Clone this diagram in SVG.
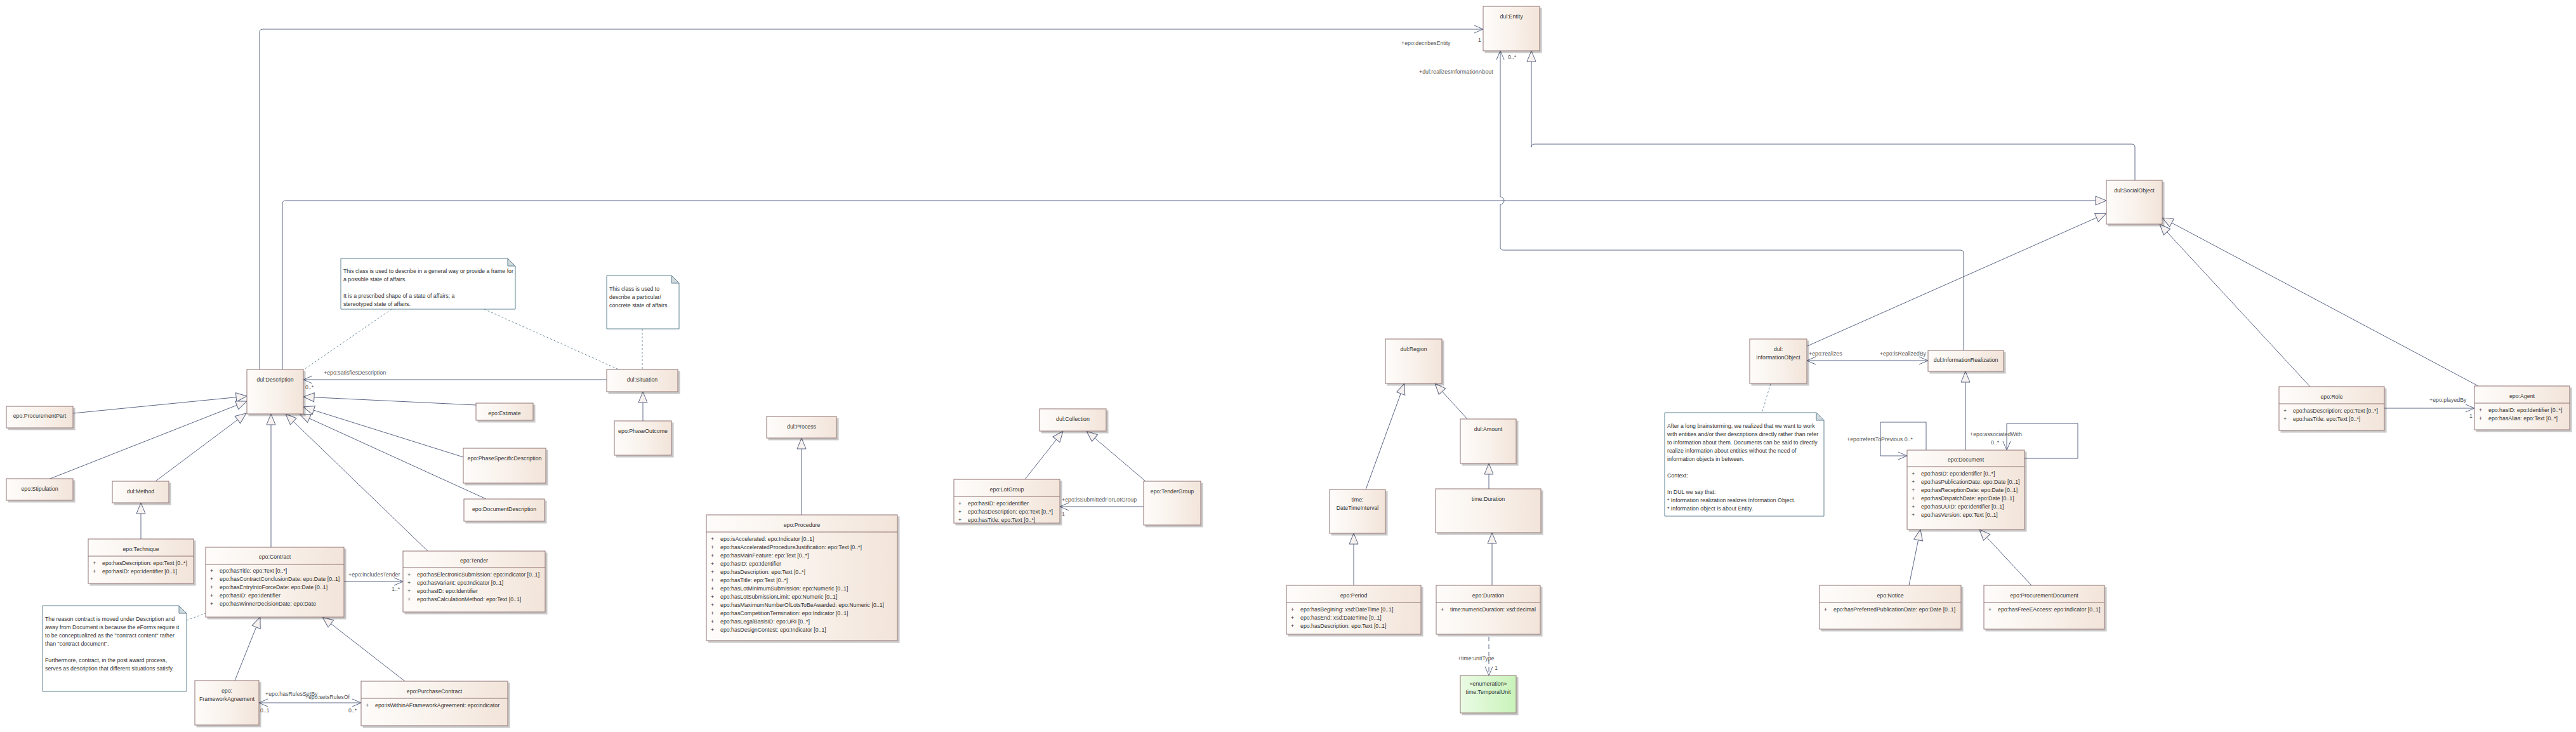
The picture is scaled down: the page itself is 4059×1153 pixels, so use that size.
<svg xmlns="http://www.w3.org/2000/svg" width="4059" height="1153" viewBox="0 0 4059 1153">
<defs>
<linearGradient id="g" x1="0" y1="0" x2="1" y2="0"><stop offset="0" stop-color="#fefcfa"/><stop offset="0.5" stop-color="#f9f2ec"/><stop offset="1" stop-color="#f2e4d9"/></linearGradient>
<linearGradient id="gg" x1="0" y1="0" x2="1" y2="0"><stop offset="0" stop-color="#eafbe4"/><stop offset="1" stop-color="#c9f3ba"/></linearGradient>
<filter id="sh" x="-10%" y="-10%" width="130%" height="130%"><feDropShadow dx="3" dy="3" stdDeviation="0.6" flood-color="#000" flood-opacity="0.22"/></filter>
<marker id="gen" viewBox="0 0 18 14" refX="17" refY="7" markerWidth="18" markerHeight="14" markerUnits="userSpaceOnUse" orient="auto" overflow="visible"><path d="M0,0 L17,7 L0,14 Z" fill="#f7f2ef" stroke="#5b6685" stroke-width="1"/></marker>
<marker id="opn" viewBox="0 0 15 12" refX="14" refY="6" markerWidth="15" markerHeight="12" markerUnits="userSpaceOnUse" orient="auto-start-reverse" overflow="visible"><path d="M0,0 L14,6 L0,12" fill="none" stroke="#5b6685" stroke-width="1"/></marker>
</defs>
<style>
.box{fill:url(#g);stroke:#8f7373;stroke-width:1;filter:url(#sh)}
.en{fill:url(#gg);stroke:#8f7373;stroke-width:1;filter:url(#sh)}
.dv{stroke:#8f7373;stroke-width:1}
.t{font-family:"Liberation Sans",Arial,sans-serif;font-size:8.8px;fill:#333}
.c{text-anchor:middle}
.e{text-anchor:end}
.lb{font-family:"Liberation Sans",Arial,sans-serif;font-size:8.8px;fill:#555}
.ln{stroke:#5b6685;stroke-width:1;fill:none}
.g{marker-end:url(#gen)}
.o{marker-end:url(#opn)}
.oo{marker-start:url(#opn);marker-end:url(#opn)}
.note{fill:#ffffff;stroke:#5d8090;stroke-width:1}
.fold{fill:#d2dade;stroke:#5d8090;stroke-width:1}
.nc{stroke:#6d8e9e;stroke-width:1;stroke-dasharray:3,3;fill:none}
.dd{stroke-dasharray:7,5}
</style>
<rect width="4059" height="1153" fill="#ffffff"/>

<g id="connectors">
<!-- generalizations -->
<path class="ln g" d="M115,651 L389,624"/>
<path class="ln g" d="M79,754 L389,632"/>
<path class="ln g" d="M245,758 L388,651"/>
<path class="ln g" d="M427,862 L427,652"/>
<path class="ln g" d="M674,868 L450,652"/>
<path class="ln g" d="M766,786 L472,652"/>
<path class="ln g" d="M730,720 L478,641"/>
<path class="ln g" d="M750,638 L478,625"/>
<path class="ln g" d="M222,849 L222,792"/>
<path class="ln g" d="M370,1072 L410,972"/>
<path class="ln g" d="M638,1073 L508,972"/>
<path class="ln g" d="M1013,663 L1013,617"/>
<path class="ln g" d="M1263,811 L1263,690"/>
<path class="ln g" d="M1615,755 L1675,679"/>
<path class="ln g" d="M1805,758 L1712,679"/>
<path class="ln g" d="M2152,771 L2213,604"/>
<path class="ln g" d="M2312,660 L2261,604"/>
<path class="ln g" d="M2346,770 L2346,730"/>
<path class="ln g" d="M2133,922 L2133,840"/>
<path class="ln g" d="M2351,922 L2351,839"/>
<path class="ln g" d="M3097,709 L3097,585"/>
<path class="ln g" d="M3008,922 L3026,834"/>
<path class="ln g" d="M3201,922 L3119,834"/>
<path class="ln g" d="M2848,545 L3319,336"/>
<path class="ln g" d="M3640,609 L3403,353"/>
<path class="ln g" d="M3905,608 L3407,343"/>
<path class="ln g" d="M3364,284 V232 Q3364,227 3359,227 H2418 Q2413,227 2413,232 V80"/>
<path class="ln g" d="M445,582 V321 Q445,316 450,316 H3319"/>
<!-- associations -->
<path class="ln o" d="M956,598 L478,598"/>
<path class="ln o" d="M542,916 L635,916"/>
<path class="ln oo" d="M408,1107 L569,1107"/>
<path class="ln o" d="M1802,798 L1670,798"/>
<path class="ln o" d="M409,582 V51 Q409,46 414,46 H2337"/>
<path class="ln o" d="M3094,552 V399 Q3094,394 3089,394 H2369 Q2364,394 2364,389 V322 A6,6 0 0 0 2364,310 V80"/>
<path class="ln oo" d="M2847,568 L3038,568"/>
<path class="ln o dd" d="M2346,1003 L2346,1064"/>
<path class="ln o" d="M3035,709 V665 H2963 V718 H3005"/>
<path class="ln o" d="M3190,722 H3274 V667 H3162 V709"/>
<path class="ln o" d="M3757,643 L3899,643"/>
<!-- note links -->
<path class="nc" d="M617,487 L479,582"/>
<path class="nc" d="M763,487 L975,582"/>
<path class="nc" d="M294,977 L324,966"/>
<path class="nc" d="M1012,518 L1012,582"/>
<path class="nc" d="M2777,648 L2790,604"/>
<!-- labels -->
<text class="lb" x="510" y="590">+epo:satisfiesDescription</text>
<text class="lb" x="481" y="613">0..*</text>
<text class="lb" x="549" y="908">+epo:includesTender</text>
<text class="lb" x="617" y="931">1..*</text>
<text class="lb" x="418" y="1096">+epo:hasRulesSetBy</text>
<text class="lb e" x="551" y="1101">+epo:setsRulesOf</text>
<text class="lb" x="410" y="1122">0..1</text>
<text class="lb" x="549" y="1122">0..*</text>
<text class="lb" x="1673" y="790">+epo:isSubmittedForLotGroup</text>
<text class="lb" x="1673" y="813">1</text>
<text class="lb" x="2208" y="71">+epo:decribesEntity</text>
<text class="lb" x="2329" y="66">1</text>
<text class="lb" x="2236" y="116">+dul:realizesInformationAbout</text>
<text class="lb" x="2376" y="93">0..*</text>
<text class="lb" x="2850" y="560">+epo:realizes</text>
<text class="lb e" x="3035" y="560">+epo:isRealizedBy</text>
<text class="lb" x="2297" y="1040">+time:unitType</text>
<text class="lb" x="2355" y="1055">1</text>
<text class="lb" x="2910" y="695">+epo:refersToPrevious 0..*</text>
<text class="lb" x="3104" y="687">+epo:associatedWith</text>
<text class="lb" x="3137" y="700">0..*</text>
<text class="lb" x="3828" y="633">+epo:playedBy</text>
<text class="lb" x="3891" y="658">1</text>
</g>

<g id="n-entity"><rect class="box" x="2337" y="10" width="89" height="70"/><text class="t c" x="2381.5" y="29">dul:Entity</text></g>
<g id="n-socialobject"><rect class="box" x="3319" y="284" width="88" height="69"/><text class="t c" x="3363" y="303">dul:SocialObject</text></g>
<g id="n-description"><rect class="box" x="389" y="582" width="89" height="70"/><text class="t c" x="433.5" y="601">dul:Description</text></g>
<g id="n-procurementpart"><rect class="box" x="10" y="640" width="105" height="34"/><text class="t c" x="62.5" y="658">epo:ProcurementPart</text></g>
<g id="n-stipulation"><rect class="box" x="10" y="754" width="105" height="34"/><text class="t c" x="62.5" y="773">epo:Stipulation</text></g>
<g id="n-method"><rect class="box" x="177" y="758" width="89" height="34"/><text class="t c" x="221.5" y="777">dul:Method</text></g>
<g id="n-estimate"><rect class="box" x="750" y="635" width="90" height="27"/><text class="t c" x="795" y="654">epo:Estimate</text></g>
<g id="n-phasespecificdescription"><rect class="box" x="730" y="706" width="130" height="55"/><text class="t c" x="795" y="725">epo:PhaseSpecificDescription</text></g>
<g id="n-documentdescription"><rect class="box" x="731" y="786" width="127" height="35"/><text class="t c" x="794.5" y="805">epo:DocumentDescription</text></g>

<g id="n-technique"><rect class="box" x="139" y="849" width="166" height="70"/><line class="dv" x1="139" y1="876" x2="305" y2="876"/><text class="t c" x="222" y="868">epo:Technique</text>
<text class="t" y="890"><tspan x="146">+</tspan><tspan x="161">epo:hasDescription: epo:Text [0..*]</tspan></text>
<text class="t" y="903"><tspan x="146">+</tspan><tspan x="161">epo:hasID: epo:Identifier [0..1]</tspan></text></g>

<g id="n-contract"><rect class="box" x="324" y="862" width="218" height="110"/><line class="dv" x1="324" y1="889" x2="542" y2="889"/><text class="t c" x="433" y="880">epo:Contract</text>
<text class="t" y="902"><tspan x="331">+</tspan><tspan x="346">epo:hasTitle: epo:Text [0..*]</tspan></text>
<text class="t" y="915"><tspan x="331">+</tspan><tspan x="346">epo:hasContractConclusionDate: epo:Date [0..1]</tspan></text>
<text class="t" y="928"><tspan x="331">+</tspan><tspan x="346">epo:hasEntryIntoForceDate: epo:Date [0..1]</tspan></text>
<text class="t" y="941"><tspan x="331">+</tspan><tspan x="346">epo:hasID: epo:Identifier</tspan></text>
<text class="t" y="954"><tspan x="331">+</tspan><tspan x="346">epo:hasWinnerDecisionDate: epo:Date</tspan></text></g>

<g id="n-tender"><rect class="box" x="635" y="868" width="224" height="96"/><line class="dv" x1="635" y1="894" x2="859" y2="894"/><text class="t c" x="747" y="886">epo:Tender</text>
<text class="t" y="908"><tspan x="642">+</tspan><tspan x="657">epo:hasElectronicSubmission: epo:Indicator [0..1]</tspan></text>
<text class="t" y="921"><tspan x="642">+</tspan><tspan x="657">epo:hasVariant: epo:Indicator [0..1]</tspan></text>
<text class="t" y="934"><tspan x="642">+</tspan><tspan x="657">epo:hasID: epo:Identifier</tspan></text>
<text class="t" y="947"><tspan x="642">+</tspan><tspan x="657">epo:hasCalculationMethod: epo:Text [0..1]</tspan></text></g>

<g id="n-frameworkagreement"><rect class="box" x="307" y="1072" width="101" height="70"/><text class="t c" x="357.5" y="1091">epo:</text><text class="t c" x="357.5" y="1104">FrameworkAgreement</text></g>

<g id="n-purchasecontract"><rect class="box" x="569" y="1073" width="231" height="70"/><line class="dv" x1="569" y1="1100" x2="800" y2="1100"/><text class="t c" x="684.5" y="1092">epo:PurchaseContract</text>
<text class="t" y="1114"><tspan x="576">+</tspan><tspan x="591">epo:isWithinAFrameworkAgreement: epo:indicator</tspan></text></g>

<g id="n-situation"><rect class="box" x="956" y="582" width="112" height="35"/><text class="t c" x="1012" y="601">dul:Situation</text></g>
<g id="n-phaseoutcome"><rect class="box" x="968" y="663" width="90" height="54"/><text class="t c" x="1013" y="682">epo:PhaseOutcome</text></g>
<g id="n-process"><rect class="box" x="1208" y="656" width="110" height="34"/><text class="t c" x="1263" y="675">dul:Process</text></g>

<g id="n-procedure"><rect class="box" x="1113" y="811" width="301" height="198"/><line class="dv" x1="1113" y1="838" x2="1414" y2="838"/><text class="t c" x="1263.5" y="830">epo:Procedure</text>
<text class="t" y="852"><tspan x="1120">+</tspan><tspan x="1135">epo:isAccelerated: epo:Indicator [0..1]</tspan></text>
<text class="t" y="865"><tspan x="1120">+</tspan><tspan x="1135">epo:hasAcceleratedProcedureJustification: epo:Text [0..*]</tspan></text>
<text class="t" y="878"><tspan x="1120">+</tspan><tspan x="1135">epo:hasMainFeature: epo:Text [0..*]</tspan></text>
<text class="t" y="891"><tspan x="1120">+</tspan><tspan x="1135">epo:hasID: epo:Identifier</tspan></text>
<text class="t" y="904"><tspan x="1120">+</tspan><tspan x="1135">epo:hasDescription: epo:Text [0..*]</tspan></text>
<text class="t" y="917"><tspan x="1120">+</tspan><tspan x="1135">epo:hasTitle: epo:Text [0..*]</tspan></text>
<text class="t" y="930"><tspan x="1120">+</tspan><tspan x="1135">epo:hasLotMinimumSubmission: epo:Numeric [0..1]</tspan></text>
<text class="t" y="943"><tspan x="1120">+</tspan><tspan x="1135">epo:hasLotSubmissionLimit: epo:Numeric [0..1]</tspan></text>
<text class="t" y="956"><tspan x="1120">+</tspan><tspan x="1135">epo:hasMaximumNumberOfLotsToBeAwarded: epo:Numeric [0..1]</tspan></text>
<text class="t" y="969"><tspan x="1120">+</tspan><tspan x="1135">epo:hasCompetitionTermination: epo:Indicator [0..1]</tspan></text>
<text class="t" y="982"><tspan x="1120">+</tspan><tspan x="1135">epo:hasLegalBasisID: epo:URI [0..*]</tspan></text>
<text class="t" y="995"><tspan x="1120">+</tspan><tspan x="1135">epo:hasDesignContest: epo:Indicator [0..1]</tspan></text></g>

<g id="n-collection"><rect class="box" x="1638" y="644" width="105" height="35"/><text class="t c" x="1690.5" y="663">dul:Collection</text></g>

<g id="n-lotgroup"><rect class="box" x="1503" y="755" width="167" height="69"/><line class="dv" x1="1503" y1="782" x2="1670" y2="782"/><text class="t c" x="1586.5" y="774">epo:LotGroup</text>
<text class="t" y="796"><tspan x="1510">+</tspan><tspan x="1525">epo:hasID: epo:Identifier</tspan></text>
<text class="t" y="809"><tspan x="1510">+</tspan><tspan x="1525">epo:hasDescription: epo:Text [0..*]</tspan></text>
<text class="t" y="822"><tspan x="1510">+</tspan><tspan x="1525">epo:hasTitle: epo:Text [0..*]</tspan></text></g>

<g id="n-tendergroup"><rect class="box" x="1802" y="758" width="90" height="69"/><text class="t c" x="1847" y="777">epo:TenderGroup</text></g>

<g id="n-region"><rect class="box" x="2183" y="534" width="89" height="70"/><text class="t c" x="2227.5" y="553">dul:Region</text></g>
<g id="n-amount"><rect class="box" x="2301" y="660" width="88" height="70"/><text class="t c" x="2345" y="679">dul:Amount</text></g>
<g id="n-datetimeinterval"><rect class="box" x="2095" y="771" width="88" height="69"/><text class="t c" x="2139" y="790">time:</text><text class="t c" x="2139" y="803">DateTimeInterval</text></g>
<g id="n-timeduration"><rect class="box" x="2262" y="770" width="166" height="69"/><text class="t c" x="2345" y="789">time:Duration</text></g>

<g id="n-period"><rect class="box" x="2027" y="922" width="212" height="77"/><line class="dv" x1="2027" y1="949" x2="2239" y2="949"/><text class="t c" x="2133" y="941">epo:Period</text>
<text class="t" y="963"><tspan x="2034">+</tspan><tspan x="2049">epo:hasBegining: xsd:DateTime [0..1]</tspan></text>
<text class="t" y="976"><tspan x="2034">+</tspan><tspan x="2049">epo:hasEnd: xsd:DateTime [0..1]</tspan></text>
<text class="t" y="989"><tspan x="2034">+</tspan><tspan x="2049">epo:hasDescription: epo:Text [0..1]</tspan></text></g>

<g id="n-epoduration"><rect class="box" x="2263" y="922" width="164" height="77"/><line class="dv" x1="2263" y1="949" x2="2427" y2="949"/><text class="t c" x="2345" y="941">epo:Duration</text>
<text class="t" y="963"><tspan x="2270">+</tspan><tspan x="2285">time:numericDuration: xsd:decimal</tspan></text></g>

<g id="n-temporalunit"><rect class="en" x="2301" y="1064" width="88" height="59"/><text class="t c" x="2345" y="1080">«enumeration»</text><text class="t c" x="2345" y="1093">time:TemporalUnit</text></g>

<g id="n-informationobject"><rect class="box" x="2757" y="534" width="90" height="70"/><text class="t c" x="2802" y="553">dul:</text><text class="t c" x="2802" y="566">InformationObject</text></g>
<g id="n-informationrealization"><rect class="box" x="3038" y="552" width="119" height="33"/><text class="t c" x="3097.5" y="570">dul:InformationRealization</text></g>

<g id="n-document"><rect class="box" x="3005" y="709" width="185" height="125"/><line class="dv" x1="3005" y1="735" x2="3190" y2="735"/><text class="t c" x="3097.5" y="727">epo:Document</text>
<text class="t" y="749"><tspan x="3012">+</tspan><tspan x="3027">epo:hasID: epo:Identifier [0..*]</tspan></text>
<text class="t" y="762"><tspan x="3012">+</tspan><tspan x="3027">epo:hasPublicationDate: epo:Date [0..1]</tspan></text>
<text class="t" y="775"><tspan x="3012">+</tspan><tspan x="3027">epo:hasReceptionDate: epo:Date [0..1]</tspan></text>
<text class="t" y="788"><tspan x="3012">+</tspan><tspan x="3027">epo:hasDispatchDate: epo:Date [0..1]</tspan></text>
<text class="t" y="801"><tspan x="3012">+</tspan><tspan x="3027">epo:hasUUID: epo:Identifier [0..1]</tspan></text>
<text class="t" y="814"><tspan x="3012">+</tspan><tspan x="3027">epo:hasVersion: epo:Text [0..1]</tspan></text></g>

<g id="n-notice"><rect class="box" x="2867" y="922" width="223" height="69"/><line class="dv" x1="2867" y1="949" x2="3090" y2="949"/><text class="t c" x="2978.5" y="941">epo:Notice</text>
<text class="t" y="963"><tspan x="2874">+</tspan><tspan x="2889">epo:hasPreferredPublicationDate: epo:Date [0..1]</tspan></text></g>

<g id="n-procurementdocument"><rect class="box" x="3126" y="922" width="190" height="69"/><line class="dv" x1="3126" y1="949" x2="3316" y2="949"/><text class="t c" x="3221" y="941">epo:ProcurementDocument</text>
<text class="t" y="963"><tspan x="3133">+</tspan><tspan x="3148">epo:hasFreeEAccess: epo:Indicator [0..1]</tspan></text></g>

<g id="n-role"><rect class="box" x="3591" y="609" width="166" height="69"/><line class="dv" x1="3591" y1="636" x2="3757" y2="636"/><text class="t c" x="3674" y="628">epo:Role</text>
<text class="t" y="650"><tspan x="3598">+</tspan><tspan x="3613">epo:hasDescription: epo:Text [0..*]</tspan></text>
<text class="t" y="663"><tspan x="3598">+</tspan><tspan x="3613">epo:hasTitle: epo:Text [0..*]</tspan></text></g>

<g id="n-agent"><rect class="box" x="3899" y="608" width="150" height="69"/><line class="dv" x1="3899" y1="635" x2="4049" y2="635"/><text class="t c" x="3974" y="627">epo:Agent</text>
<text class="t" y="649"><tspan x="3906">+</tspan><tspan x="3921">epo:hasID: epo:Identifier [0..*]</tspan></text>
<text class="t" y="662"><tspan x="3906">+</tspan><tspan x="3921">epo:hasAlias: epo:Text [0..*]</tspan></text></g>

<g id="note-description"><path class="note" d="M537,407 H800 L812,419 V487 H537 Z"/><path class="fold" d="M800,407 V419 H812 Z"/>
<text class="t" x="541" y="430">This class is used to describe in a general way or provide a frame for</text>
<text class="t" x="541" y="443">a possible state of affairs.</text>
<text class="t" x="541" y="469">It is a prescribed shape of a state of affairs; a</text>
<text class="t" x="541" y="482">stereotyped state of affairs.</text></g>

<g id="note-situation"><path class="note" d="M956,434 H1058 L1070,446 V518 H956 Z"/><path class="fold" d="M1058,434 V446 H1070 Z"/>
<text class="t" x="960" y="458">This class is used to</text>
<text class="t" x="960" y="471">describe a particular/</text>
<text class="t" x="960" y="484">concrete state of affairs.</text></g>

<g id="note-contract"><path class="note" d="M67,954 H282 L294,966 V1089 H67 Z"/><path class="fold" d="M282,954 V966 H294 Z"/>
<text class="t" x="71" y="978">The reason contract is moved under Description and</text>
<text class="t" x="71" y="991">away from Document is because the eForms require it</text>
<text class="t" x="71" y="1004">to be conceptualized as the "contract content" rather</text>
<text class="t" x="71" y="1017">than "contract document".</text>
<text class="t" x="71" y="1043">Furthermore, contract, in the post award process,</text>
<text class="t" x="71" y="1056">serves as description that different situations satisfy.</text></g>

<g id="note-information"><path class="note" d="M2623,650 H2862 L2874,662 V813 H2623 Z"/><path class="fold" d="M2862,650 V662 H2874 Z"/>
<text class="t" x="2627" y="674">After a long brainstorming, we realized that we want to work</text>
<text class="t" x="2627" y="687">with entities and/or their descriptions directly rather than refer</text>
<text class="t" x="2627" y="700">to information about them. Documents can be said to directly</text>
<text class="t" x="2627" y="713">realize information about entities without the need of</text>
<text class="t" x="2627" y="726">information objects in between.</text>
<text class="t" x="2627" y="752">Context:</text>
<text class="t" x="2627" y="778">In DUL we say that:</text>
<text class="t" x="2627" y="791">* Information realization realizes Information Object.</text>
<text class="t" x="2627" y="804">* Information object is about Entity.</text></g>
</svg>
